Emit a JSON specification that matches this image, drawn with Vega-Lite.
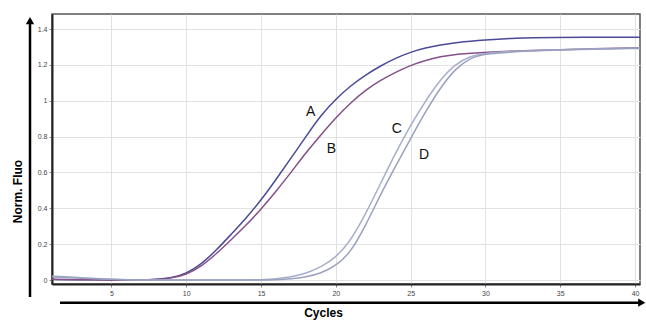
{
  "$schema": "https://vega.github.io/schema/vega-lite/v6.json",
  "width": 588,
  "height": 270,
  "autosize": "none",
  "padding": {"left": 52, "top": 14, "right": 6, "bottom": 36},
  "background": "white",
  "config": {
    "view": {"stroke": "#555555", "strokeWidth": 1.5},
    "font": "Liberation Sans"
  },
  "datasets": {
    "curves": [
      {"sample":"A","cycle":1,"fluo":0.004},{"sample":"A","cycle":3,"fluo":0.002},{"sample":"A","cycle":5,"fluo":0},{"sample":"A","cycle":7,"fluo":0},{"sample":"A","cycle":8,"fluo":0.003},{"sample":"A","cycle":9,"fluo":0.012},{"sample":"A","cycle":10,"fluo":0.035},{"sample":"A","cycle":11,"fluo":0.088},{"sample":"A","cycle":12,"fluo":0.165},{"sample":"A","cycle":13,"fluo":0.255},{"sample":"A","cycle":14,"fluo":0.345},{"sample":"A","cycle":15,"fluo":0.445},{"sample":"A","cycle":16,"fluo":0.56},{"sample":"A","cycle":17,"fluo":0.68},{"sample":"A","cycle":18,"fluo":0.8},{"sample":"A","cycle":19,"fluo":0.92},{"sample":"A","cycle":20,"fluo":1.01},{"sample":"A","cycle":21,"fluo":1.085},{"sample":"A","cycle":22,"fluo":1.145},{"sample":"A","cycle":23,"fluo":1.195},{"sample":"A","cycle":24,"fluo":1.238},{"sample":"A","cycle":25,"fluo":1.272},{"sample":"A","cycle":26,"fluo":1.295},{"sample":"A","cycle":27,"fluo":1.312},{"sample":"A","cycle":28,"fluo":1.325},{"sample":"A","cycle":30,"fluo":1.34},{"sample":"A","cycle":32,"fluo":1.35},{"sample":"A","cycle":34,"fluo":1.354},{"sample":"A","cycle":40.33,"fluo":1.355},
      {"sample":"B","cycle":1,"fluo":0.004},{"sample":"B","cycle":3,"fluo":0.002},{"sample":"B","cycle":5,"fluo":0},{"sample":"B","cycle":7,"fluo":0},{"sample":"B","cycle":8,"fluo":0.003},{"sample":"B","cycle":9,"fluo":0.01},{"sample":"B","cycle":10,"fluo":0.03},{"sample":"B","cycle":11,"fluo":0.075},{"sample":"B","cycle":12,"fluo":0.145},{"sample":"B","cycle":13,"fluo":0.225},{"sample":"B","cycle":14,"fluo":0.305},{"sample":"B","cycle":15,"fluo":0.395},{"sample":"B","cycle":16,"fluo":0.495},{"sample":"B","cycle":17,"fluo":0.6},{"sample":"B","cycle":18,"fluo":0.71},{"sample":"B","cycle":19,"fluo":0.81},{"sample":"B","cycle":20,"fluo":0.905},{"sample":"B","cycle":21,"fluo":0.99},{"sample":"B","cycle":22,"fluo":1.06},{"sample":"B","cycle":23,"fluo":1.115},{"sample":"B","cycle":24,"fluo":1.16},{"sample":"B","cycle":25,"fluo":1.198},{"sample":"B","cycle":26,"fluo":1.226},{"sample":"B","cycle":27,"fluo":1.246},{"sample":"B","cycle":28,"fluo":1.26},{"sample":"B","cycle":30,"fluo":1.272},{"sample":"B","cycle":33,"fluo":1.28},{"sample":"B","cycle":36,"fluo":1.288},{"sample":"B","cycle":40.33,"fluo":1.296},
      {"sample":"C","cycle":1,"fluo":0.022},{"sample":"C","cycle":2,"fluo":0.018},{"sample":"C","cycle":3,"fluo":0.013},{"sample":"C","cycle":4,"fluo":0.009},{"sample":"C","cycle":5,"fluo":0.005},{"sample":"C","cycle":6,"fluo":0.002},{"sample":"C","cycle":7,"fluo":0},{"sample":"C","cycle":10,"fluo":0},{"sample":"C","cycle":14,"fluo":0},{"sample":"C","cycle":15,"fluo":0.002},{"sample":"C","cycle":16,"fluo":0.006},{"sample":"C","cycle":17,"fluo":0.016},{"sample":"C","cycle":18,"fluo":0.037},{"sample":"C","cycle":19,"fluo":0.072},{"sample":"C","cycle":20,"fluo":0.125},{"sample":"C","cycle":21,"fluo":0.22},{"sample":"C","cycle":22,"fluo":0.37},{"sample":"C","cycle":23,"fluo":0.54},{"sample":"C","cycle":24,"fluo":0.71},{"sample":"C","cycle":25,"fluo":0.865},{"sample":"C","cycle":26,"fluo":1.0},{"sample":"C","cycle":27,"fluo":1.12},{"sample":"C","cycle":28,"fluo":1.205},{"sample":"C","cycle":29,"fluo":1.25},{"sample":"C","cycle":30,"fluo":1.268},{"sample":"C","cycle":33,"fluo":1.28},{"sample":"C","cycle":36,"fluo":1.287},{"sample":"C","cycle":40.33,"fluo":1.294},
      {"sample":"D","cycle":1,"fluo":0.018},{"sample":"D","cycle":2,"fluo":0.014},{"sample":"D","cycle":3,"fluo":0.01},{"sample":"D","cycle":4,"fluo":0.007},{"sample":"D","cycle":5,"fluo":0.004},{"sample":"D","cycle":6,"fluo":0.001},{"sample":"D","cycle":7,"fluo":0},{"sample":"D","cycle":15,"fluo":0},{"sample":"D","cycle":16,"fluo":0.002},{"sample":"D","cycle":17,"fluo":0.006},{"sample":"D","cycle":18,"fluo":0.017},{"sample":"D","cycle":19,"fluo":0.038},{"sample":"D","cycle":20,"fluo":0.078},{"sample":"D","cycle":21,"fluo":0.155},{"sample":"D","cycle":22,"fluo":0.305},{"sample":"D","cycle":23,"fluo":0.48},{"sample":"D","cycle":24,"fluo":0.635},{"sample":"D","cycle":25,"fluo":0.79},{"sample":"D","cycle":26,"fluo":0.94},{"sample":"D","cycle":27,"fluo":1.075},{"sample":"D","cycle":28,"fluo":1.18},{"sample":"D","cycle":29,"fluo":1.24},{"sample":"D","cycle":30,"fluo":1.264},{"sample":"D","cycle":33,"fluo":1.278},{"sample":"D","cycle":36,"fluo":1.286},{"sample":"D","cycle":40.33,"fluo":1.292}
    ],
    "labels": [
      {"label":"A","cycle":18.32,"fluo":0.938},
      {"label":"B","cycle":19.7,"fluo":0.733},
      {"label":"C","cycle":24.07,"fluo":0.845},
      {"label":"D","cycle":25.9,"fluo":0.696}
    ],
    "arrows": [
      {"cycle":-0.44,"cycle2":-0.44,"fluo":-0.094,"fluo2":1.44},
      {"cycle":1.565,"cycle2":40.35,"fluo":-0.126,"fluo2":-0.126}
    ],
    "heads": [
      {"cycle":-0.44,"fluo":1.447,"shape":"triangle-up"},
      {"cycle":40.45,"fluo":-0.126,"shape":"triangle-right"}
    ]
  },
  "encoding": {
    "x": {
      "field": "cycle", "type": "quantitative",
      "scale": {"domain": [1.03, 40.33], "nice": false, "zero": false},
      "axis": {
        "title": "Cycles", "values": [5,10,15,20,25,30,35,40],
        "grid": true, "gridColor": "#e2e2e2", "gridWidth": 1,
        "domainColor": "#222222", "domainWidth": 2,
        "tickSize": 3, "tickColor": "#888888",
        "labelFontSize": 7, "labelColor": "#444444", "labelPadding": 2, "labelFont": "Liberation Sans",
        "titleFont": "Liberation Sans", "titleFontSize": 12, "titleFontWeight": "bold", "titleColor": "#000000",
        "titleX": 271, "titleY": 28, "titleAlign": "center", "titleBaseline": "middle"
      }
    },
    "y": {
      "field": "fluo", "type": "quantitative",
      "scale": {"domain": [-0.022, 1.484], "nice": false, "zero": false},
      "axis": {
        "title": "Norm. Fluo", "values": [0,0.2,0.4,0.6,0.8,1,1.2,1.4], "format": "~g",
        "grid": true, "gridColor": "#e2e2e2", "gridWidth": 1,
        "domainColor": "#222222", "domainWidth": 2,
        "tickSize": 3, "tickColor": "#888888",
        "labelFontSize": 7, "labelColor": "#444444", "labelPadding": 2, "labelFont": "Liberation Sans",
        "titleFont": "Liberation Sans", "titleFontSize": 12, "titleFontWeight": "bold", "titleColor": "#000000",
        "titleX": -35, "titleY": 177, "titleAngle": 270, "titleAlign": "center", "titleBaseline": "middle"
      }
    }
  },
  "layer": [
    {
      "data": {"name": "curves"},
      "mark": {"type": "line", "interpolate": "basis", "strokeWidth": 1.5, "clip": true},
      "encoding": {
        "color": {
          "field": "sample", "type": "nominal",
          "scale": {"domain": ["A","B","C","D"], "range": ["#4a4a96","#86508a","#a8aecb","#9aa1c0"]},
          "legend": null
        }
      }
    },
    {
      "data": {"name": "labels"},
      "mark": {"type": "text", "fontSize": 14, "font": "Liberation Sans", "color": "#111111", "align": "center", "baseline": "middle"},
      "encoding": {"text": {"field": "label", "type": "nominal"}}
    },
    {
      "data": {"name": "arrows"},
      "mark": {"type": "rule", "strokeWidth": 2.5, "color": "#000000", "clip": false},
      "encoding": {
        "x2": {"field": "cycle2"},
        "y2": {"field": "fluo2"}
      }
    },
    {
      "data": {"name": "heads"},
      "mark": {"type": "point", "filled": true, "color": "#000000", "opacity": 1, "size": 70, "clip": false},
      "encoding": {"shape": {"field": "shape", "type": "nominal", "scale": null}}
    }
  ]
}
